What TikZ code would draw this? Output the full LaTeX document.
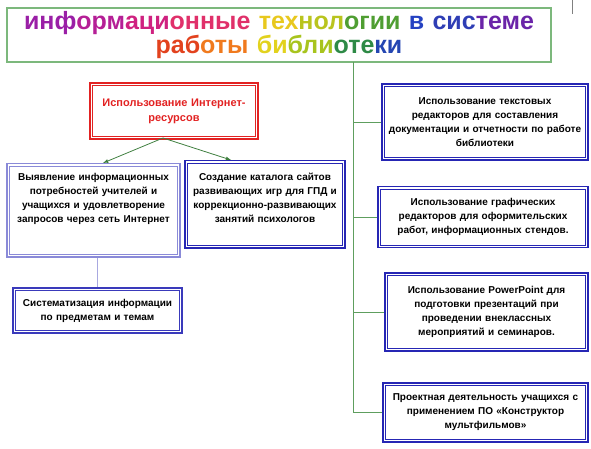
\documentclass[tikz,border=0pt]{standalone}
\usepackage{fontspec}
\setmainfont{Liberation Sans}
\usetikzlibrary{positioning}
\usetikzlibrary{arrows.meta}
\tikzset{>=latex}
\definecolor{Tcol}{HTML}{7CB87C}
\definecolor{Gcol}{HTML}{5E9E5E}
\definecolor{Acol}{HTML}{3F7F3F}
\definecolor{Rcol}{HTML}{E22222}
\definecolor{Dcol}{HTML}{2626B4}
\definecolor{Lcol}{HTML}{8A8AD8}
\definecolor{LLcol}{HTML}{A8A8E0}
\newcommand{\rb}[2]{\textcolor[HTML]{#1}{#2}}
\newcommand{\boxfont}{\fontsize{10}{14}\selectfont\bfseries}
\tikzset{
  titleBox/.style={draw=Tcol,line width=1.2pt,minimum width=544pt,minimum height=54pt,
    text width=540pt,align=center,inner sep=2pt,font=\fontsize{25}{24}\selectfont\bfseries},
  frame/.style={draw=#1,line width=1.5pt,
    path picture={\draw[#1,line width=0.6pt]
      ([shift={(2.6pt,-2.6pt)}]path picture bounding box.north west) rectangle
      ([shift={(-2.6pt,2.6pt)}]path picture bounding box.south east);}},
  topicBox/.style={frame=Dcol,align=center,inner xsep=2pt,inner ysep=5pt,font=\boxfont},
  internetBox/.style={topicBox,frame=Rcol,text=Rcol,font=\fontsize{11}{15}\selectfont\bfseries},
  link/.style={Gcol,thick},
  arrowLine/.style={->,Acol,thick},
  subLink/.style={LLcol,thick},
}
\begin{document}
\begin{tikzpicture}[x=1pt,y=-1pt]
  \useasboundingbox (0,0) rectangle (591,449);
  % title
  \node[titleBox] (title) at (279,35) {%
    \rb{9A1FA6}{инф}\rb{B51F96}{орм}\rb{CF2180}{аци}\rb{E0306A}{онные}
    \rb{E8C81E}{тех}\rb{B9C41E}{нол}\rb{4F9E32}{огии}
    \rb{2542C2}{в} \rb{2F3EB5}{сис}\rb{6A24A8}{теме}\\
    \rb{E2421E}{раб}\rb{F07A1E}{оты}
    \rb{E2D21E}{би}\rb{A8C41E}{бли}\rb{2E8A46}{оте}\rb{2446B2}{ки}};
  \draw[gray,thin] (572,0) -- (572,14);
  % left part
  \node[internetBox,minimum width=168pt,minimum height=56pt,text width=164pt] (inet) at (174,111)
    {Использование Интернет-\\ресурсов};
  \node[topicBox,frame=Lcol,anchor=north,inner ysep=10pt,text width=169pt,minimum width=173pt,text depth=66pt] (needs) at (93.5,163)
    {Выявление информационных\\потребностей учителей и\\учащихся и удовлетворение\\запросов через сеть Интернет};
  \node[topicBox,anchor=north,inner ysep=12pt,text width=156pt,minimum width=160pt,text depth=56pt] (catalog) at (265,160)
    {Создание каталога сайтов\\развивающих игр для ГПД и\\коррекционно-развивающих\\занятий психологов};
  \node[topicBox,frame=Dcol!80!Lcol,text width=165pt,minimum width=169pt,minimum height=45pt] (sys) at (97.5,310.5)
    {Систематизация информации\\по предметам и темам};
  % right part
  \node[topicBox,text width=201pt,minimum width=206pt,minimum height=76pt] (text) at (485,122)
    {Использование текстовых\\редакторов для составления\\документации и отчетности по работе\\библиотеки};
  \node[topicBox,text width=206pt,minimum width=210pt,minimum height=61pt] (graph) at (483,217)
    {Использование графических\\редакторов для оформительских\\работ, информационных стендов.};
  \node[topicBox,text width=199pt,minimum width=203pt,minimum height=78pt] (ppt) at (486.5,312)
    {Использование PowerPoint для\\подготовки презентаций при\\проведении внеклассных\\мероприятий и семинаров.};
  \node[topicBox,text width=201pt,minimum width=205pt,minimum height=59pt] (cartoon) at (485.5,412.5)
    {Проектная деятельность учащихся с\\применением ПО «Конструктор\\мультфильмов»};
  % connectors
  \coordinate (trunk) at (353,62);
  \draw[link] (trunk) |- (cartoon.west);
  \draw[link] (trunk |- text.west) -- (text.west);
  \draw[link] (trunk |- graph.west) -- (graph.west);
  \draw[link] (trunk |- ppt.west) -- (ppt.west);
  \coordinate (fork) at (163,138);
  \draw[arrowLine] (fork) -- ([xshift=9.5pt]needs.north);
  \draw[arrowLine] (fork) -- ([xshift=-34pt]catalog.north);
  \draw[subLink] (needs.south -| sys.north) -- (sys.north);
\end{tikzpicture}
\end{document}
